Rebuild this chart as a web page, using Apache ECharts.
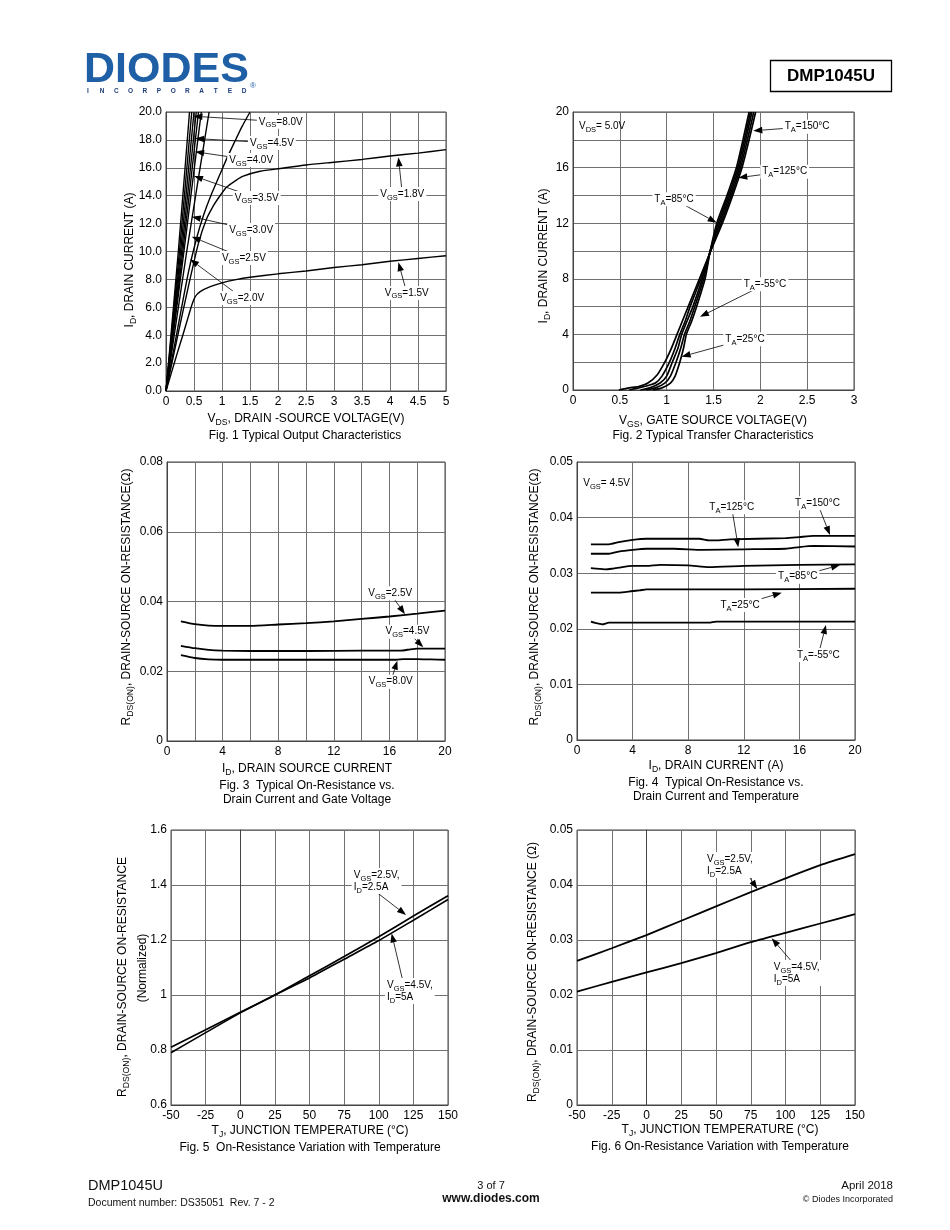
<!DOCTYPE html>
<html><head><meta charset="utf-8">
<script src="https://cdn.jsdelivr.net/npm/echarts/dist/echarts.min.js"></script>
<style>html,body{margin:0;padding:0;background:#fff}#c{width:950px;height:1230px}</style>
</head><body><div id="c"></div>
<script>
// ---------------- DATA ----------------
// Fig 1: Typical Output Characteristics  [VDS (V), ID (A)]
const fig1_vgs8p0 = [[0,0],[0.22,10],[0.42,20]];
const fig1_vgs4p5 = [[0,0],[0.24,10],[0.46,20]];
const fig1_vgs4p0 = [[0,0],[0.26,10],[0.5,20]];
const fig1_vgs3p5 = [[0,0],[0.28,10],[0.54,20]];
const fig1_vgs3p0 = [[0,0],[0.3,10],[0.58,20]];
const fig1_vgs2p5 = [[0,0],[0.32,10],[0.63,20]];
const fig1_vgs2p0 = [[0,0],[0.37,10],[0.77,20]];
const fig1_bend   = [[0,0],[0.2,4.3],[0.4,8.5],[0.55,11.0],[0.67,12.6],[0.8,14.0],[0.96,15.5],[1.1,16.8],[1.23,17.9],[1.35,18.9],[1.5,20]];
const fig1_vgs1p8 = [[0,0],[0.2,3.8],[0.4,7.5],[0.58,10.6],[0.72,12.3],[0.85,13.3],[0.93,13.8],[1.08,14.6],[1.25,15.1],[1.38,15.4],[1.68,15.75],[2.04,15.95],[2.5,16.2],[3,16.4],[3.5,16.6],[4,16.85],[4.5,17.05],[5,17.3]];
const fig1_vgs1p5 = [[0,0],[0.1,1.35],[0.2,2.7],[0.3,4.0],[0.4,5.35],[0.46,6.15],[0.52,6.75],[0.61,7.12],[0.79,7.48],[1.0,7.75],[1.25,7.98],[1.5,8.15],[2,8.4],[2.5,8.6],[3,8.85],[3.5,9.05],[4,9.3],[4.5,9.5],[5,9.7]];

// Fig 2: Transfer characteristics [VGS (V), ID (A)]
const fig2_t150 = [[0.49,0],[0.6,0.15],[0.7,0.25],[0.8,0.5],[0.9,1.1],[0.98,2.0],[1.05,3.0],[1.11,4.0],[1.17,5.0],[1.23,6.0],[1.35,8.0],[1.47,10.0],[1.595,12.0],[1.705,14.0],[1.805,16.0],[1.88,18.0],[1.95,20]];
const fig2_t125 = [[0.6,0],[0.7,0.15],[0.8,0.32],[0.88,0.5],[0.95,1.0],[1.03,2.0],[1.09,3.0],[1.14,4.0],[1.2,5.0],[1.25,6.0],[1.365,8.0],[1.47,10.0],[1.58,12.0],[1.69,14.0],[1.79,16.0],[1.862,18.0],[1.93,20]];
const fig2_t85  = [[0.72,0],[0.82,0.15],[0.93,0.5],[1.0,1.0],[1.06,2.0],[1.12,3.0],[1.16,4.0],[1.22,5.0],[1.28,6.0],[1.38,8.0],[1.465,10.0],[1.565,12.0],[1.675,14.0],[1.775,16.0],[1.845,18.0],[1.91,20]];
const fig2_t25  = [[0.78,0],[0.88,0.15],[0.98,0.5],[1.04,1.0],[1.1,2.0],[1.15,3.0],[1.19,4.0],[1.25,5.0],[1.3,6.0],[1.395,8.0],[1.465,10.0],[1.55,12.0],[1.66,14.0],[1.76,16.0],[1.83,18.0],[1.895,20]];
const fig2_tm55 = [[0.85,0],[0.95,0.15],[1.04,0.5],[1.09,1.0],[1.14,2.0],[1.18,3.0],[1.21,4.0],[1.27,5.0],[1.32,6.0],[1.41,8.0],[1.465,10.0],[1.535,12.0],[1.645,14.0],[1.745,16.0],[1.815,18.0],[1.88,20]];

// Fig 3: RDS(ON) vs ID and VGS [ID (A), R (ohm)]
const fig3_vgs2p5 = [[1,0.0343],[2,0.0335],[3,0.0331],[4,0.033],[6,0.033],[8,0.0334],[10,0.0338],[12,0.0343],[14,0.035],[16,0.0357],[18,0.0365],[20,0.0374]];
const fig3_vgs4p5 = [[1,0.0273],[2,0.0266],[3,0.0261],[4,0.0259],[6,0.0258],[10,0.0258],[14,0.0259],[16.8,0.0259],[17.5,0.0263],[18,0.0265],[20,0.0265]];
const fig3_vgs8p0 = [[1,0.0246],[2,0.0238],[3,0.0234],[4,0.0233],[10,0.0233],[16.5,0.0233],[17,0.0235],[18,0.0235],[19,0.0234],[20,0.0233]];

// Fig 4: RDS(ON) vs ID and temperature [ID (A), R (ohm)]
const fig4_t150 = [[1,0.0352],[2.3,0.0352],[3,0.0356],[4,0.036],[5,0.0362],[8.8,0.0362],[9.5,0.0359],[10,0.0359],[11,0.0361],[15,0.0363],[16,0.0365],[17,0.0367],[20,0.0367]];
const fig4_t125 = [[1,0.0335],[2.3,0.0335],[3,0.0339],[4,0.0342],[5,0.0344],[7,0.0344],[9,0.0342],[12,0.0343],[15,0.0344],[16,0.0347],[17,0.0349],[20,0.0348]];
const fig4_t85  = [[1,0.0309],[2,0.0307],[2.5,0.0308],[3,0.031],[4,0.0313],[5,0.0313],[6,0.0315],[8,0.0314],[9.5,0.0311],[12,0.0313],[16,0.0315],[20,0.0316]];
const fig4_t25  = [[1,0.0265],[3,0.0265],[4,0.0268],[4.5,0.0269],[5,0.0271],[8,0.0271],[12,0.0271],[20,0.0272]];
const fig4_tm55 = [[1,0.0213],[1.4,0.021],[1.8,0.0208],[2.3,0.0211],[4,0.0211],[9.5,0.0211],[10,0.0213],[20,0.0213]];

// Fig 5: normalized RDS(ON) vs TJ [TJ (C), normalized]
const fig5_vgs2p5 = [[-50,0.79],[0,0.935],[25,1.0],[50,1.07],[75,1.14],[100,1.212],[125,1.287],[150,1.361]];
const fig5_vgs4p5 = [[-50,0.81],[0,0.937],[25,1.0],[50,1.062],[75,1.13],[100,1.198],[125,1.272],[150,1.347]];

// Fig 6: RDS(ON) vs TJ [TJ (C), R (ohm)]
const fig6_vgs2p5 = [[-50,0.0262],[-25,0.0285],[0,0.0309],[25,0.0335],[50,0.0361],[75,0.0387],[100,0.0412],[125,0.0436],[150,0.0456]];
const fig6_vgs4p5 = [[-50,0.0206],[-25,0.0224],[0,0.0241],[25,0.0258],[50,0.0276],[75,0.0296],[100,0.0313],[125,0.033],[150,0.0347]];

// ---------------- ANNOTATIONS (data-space anchors) ----------------
const fig1Notes = [
  {t:'V{s|GS}=8.0V', at:[2.05,19.3], tip:[0.49,19.7]},
  {t:'V{s|GS}=4.5V', at:[1.89,17.78], tip:[0.52,18.1]},
  {t:'V{s|GS}=4.0V', at:[1.52,16.56], tip:[0.52,17.15]},
  {t:'V{s|GS}=3.5V', at:[1.62,13.84], tip:[0.5,15.41]},
  {t:'V{s|GS}=3.0V', at:[1.52,11.54], tip:[0.46,12.5]},
  {t:'V{s|GS}=2.5V', at:[1.39,9.53], tip:[0.46,11.06]},
  {t:'V{s|GS}=2.0V', at:[1.36,6.67], tip:[0.43,9.44]},
  {t:'V{s|GS}=1.8V', at:[4.22,14.12], tip:[4.15,16.75]},
  {t:'V{s|GS}=1.5V', at:[4.3,7.03], tip:[4.15,9.23]}
];
const fig2Notes = [
  {t:'V{s|DS}= 5.0V', at:[0.064,18.94], align:'left', bg:false},
  {t:'T{s|A}=150°C', at:[2.5,18.94], tip:[1.925,18.65]},
  {t:'T{s|A}=125°C', at:[2.26,15.71], tip:[1.765,15.27]},
  {t:'T{s|A}=85°C', at:[1.078,13.72], tip:[1.534,12.04]},
  {t:'T{s|A}=-55°C', at:[2.05,7.6], tip:[1.356,5.27]},
  {t:'T{s|A}=25°C', at:[1.836,3.65], tip:[1.16,2.4]}
];
const fig3Notes = [
  {t:'V{s|GS}=2.5V', at:[16.06,0.04235], tip:[17.12,0.03633]},
  {t:'V{s|GS}=4.5V', at:[17.3,0.03134], tip:[18.44,0.02687]},
  {t:'V{s|GS}=8.0V', at:[16.1,0.017], tip:[16.57,0.02303]}
];
const fig4Notes = [
  {t:'V{s|GS}= 4.5V', at:[0.45,0.04617], align:'left', bg:false},
  {t:'T{s|A}=150°C', at:[17.3,0.04257], tip:[18.2,0.03687]},
  {t:'T{s|A}=125°C', at:[11.13,0.04185], tip:[11.6,0.03466]},
  {t:'T{s|A}=85°C', at:[15.88,0.02937], tip:[18.92,0.03147]},
  {t:'T{s|A}=25°C', at:[11.73,0.02428], tip:[14.73,0.02649]},
  {t:'T{s|A}=-55°C', at:[17.36,0.01529], tip:[17.91,0.02068]}
];
const fig5Notes = [
  {t:'V{s|GS}=2.5V,\nI{s|D}=2.5A', at:[80.5,1.4145], align:'left', tail:[98.5,1.3735], tip:[119.7,1.291]},
  {t:'V{s|GS}=4.5V,\nI{s|D}=5A', at:[104.5,1.0145], align:'left', tail:[117.5,1.0484], tip:[109.3,1.224]}
];
const fig6Notes = [
  {t:'V{s|GS}=2.5V,\nI{s|D}=2.5A', at:[42.1,0.04364], align:'left', tail:[71.6,0.04236], tip:[79.7,0.03927]},
  {t:'V{s|GS}=4.5V,\nI{s|D}=5A', at:[90.1,0.024], align:'left', tail:[105.6,0.02576], tip:[90.1,0.0303]}
];

// ---------------- LAYOUT ----------------
const FF = "'Liberation Sans', Arial, Helvetica, sans-serif";
const GRIDS = [
  {left:166, top:112, width:280, height:279},
  {left:573, top:112, width:281, height:278},
  {left:167, top:462, width:278, height:279},
  {left:577, top:462, width:278, height:278},
  {left:171, top:830, width:277, height:275},
  {left:577, top:830, width:278, height:275}
];
const AXES = [
  {x:[0,5,0.5,null], y:[0,20,2,v=>v.toFixed(1)]},
  {x:[0,3,0.5,null], y:[0,20,2,v=>(Math.round(v)%4===0?String(v):'')]},
  {x:[0,20,2,v=>(Math.round(v)%4===0?String(v):'')], y:[0,0.08,0.02,null]},
  {x:[0,20,4,null], y:[0,0.05,0.01,null]},
  {x:[-50,150,25,null], y:[0.6,1.6,0.2,null]},
  {x:[-50,150,25,null], y:[0,0.05,0.01,null]}
];
const SERIES = [
  [0, [fig1_vgs8p0,fig1_vgs4p5,fig1_vgs4p0,fig1_vgs3p5,fig1_vgs3p0,fig1_vgs2p5,fig1_vgs2p0,fig1_bend,fig1_vgs1p8,fig1_vgs1p5], 1.4],
  [1, [fig2_t150,fig2_t125,fig2_t85,fig2_t25,fig2_tm55], 1.7],
  [2, [fig3_vgs2p5,fig3_vgs4p5,fig3_vgs8p0], 1.8],
  [3, [fig4_t150,fig4_t125,fig4_t85,fig4_t25,fig4_tm55], 1.8],
  [4, [fig5_vgs2p5,fig5_vgs4p5], 1.7],
  [5, [fig6_vgs2p5,fig6_vgs4p5], 1.8]
];
const GRID_COLOR = '#707070';
const LABEL = {fontSize:12, fontFamily:FF, color:'#000'};

const chart = echarts.init(document.getElementById('c'), null, {renderer:'canvas'});
const xAxis = [], yAxis = [], series = [];
AXES.forEach((a, i) => {
  const common = {gridIndex:i, type:'value', axisTick:{show:false},
    axisLine:{show:true, lineStyle:{color:'#444', width:1}},
    splitLine:{show:true, lineStyle:{color:GRID_COLOR, width:1}}};
  xAxis.push(Object.assign({}, common, {min:a.x[0], max:a.x[1], interval:a.x[2],
    axisLabel:Object.assign({margin:5}, LABEL, a.x[3] ? {formatter:a.x[3]} : {})}));
  yAxis.push(Object.assign({}, common, {min:a.y[0], max:a.y[1], interval:a.y[2],
    axisLabel:Object.assign({margin:4}, LABEL, a.y[3] ? {formatter:a.y[3]} : {})}));
});
SERIES.forEach(([gi, list, w]) => {
  list.forEach(d => series.push({type:'line', xAxisIndex:gi, yAxisIndex:gi, data:d,
    symbol:'none', showSymbol:false, smooth:0.2, silent:true,
    lineStyle:{color:'#000', width:w}}));
});

chart.setOption({
  animation:false,
  backgroundColor:'#fff',
  grid: GRIDS.map(g => Object.assign({show:true, borderColor:'#444', borderWidth:1, backgroundColor:'transparent'}, g)),
  xAxis, yAxis, series
});

// ---------------- GRAPHIC TEXT ----------------
function richFor(size, sub) {
  return {
    s:{fontSize:sub, fontFamily:FF, fill:'#000', lineHeight:Math.round(size*1.2), padding:[Math.round(size*0.7),0,0,0]}
  };
}
function txt(x, y, text, o) {
  o = o || {};
  const size = o.size || 12;
  return {type:'text', x, y, rotation:o.rot ? Math.PI/2 : 0, z:30, silent:true,
    style:{text, fontSize:size, fontFamily:FF, fontWeight:o.bold ? 'bold' : 'normal',
      fill:o.color || '#000', align:o.align || 'center', verticalAlign:'middle',
      lineHeight:o.lh || Math.round(size*1.2), rich:richFor(size, o.sub || size*0.72)}};
}

const els = [];
function addNotes(gi, notes) {
  notes.forEach(n => {
    const p = chart.convertToPixel({gridIndex:gi}, n.at);
    if (n.tip) {
      const t = chart.convertToPixel({gridIndex:gi}, n.tail || n.at);
      const q = chart.convertToPixel({gridIndex:gi}, n.tip);
      const dx = q[0]-t[0], dy = q[1]-t[1], L = Math.hypot(dx, dy), ux = dx/L, uy = dy/L;
      const ah = 9, aw = 3.3;
      const bx = q[0]-ux*ah, by = q[1]-uy*ah;
      els.push({type:'line', z:20, silent:true, shape:{x1:t[0], y1:t[1], x2:bx, y2:by}, style:{stroke:'#000', lineWidth:0.8}});
      els.push({type:'polygon', z:20, silent:true, shape:{points:[[q[0],q[1]],[bx-uy*aw, by+ux*aw],[bx+uy*aw, by-ux*aw]]}, style:{fill:'#000'}});
    }
    const e = txt(p[0], p[1], n.t, {size:10, sub:7.5, align:n.align || 'center', lh:12});
    if (n.bg !== false) { e.style.backgroundColor = '#fff'; e.style.padding = [1,2]; }
    els.push(e);
  });
}
addNotes(0, fig1Notes); addNotes(1, fig2Notes); addNotes(2, fig3Notes);
addNotes(3, fig4Notes); addNotes(4, fig5Notes); addNotes(5, fig6Notes);

// axis titles and captions
const TITLES = [
  [306, 419, 'V{s|DS}, DRAIN -SOURCE VOLTAGE(V)'],
  [305, 436, 'Fig. 1 Typical Output Characteristics'],
  [713, 421, 'V{s|GS}, GATE SOURCE VOLTAGE(V)'],
  [713, 436, 'Fig. 2 Typical Transfer Characteristics'],
  [307, 769, 'I{s|D}, DRAIN SOURCE CURRENT'],
  [307, 786, 'Fig. 3  Typical On-Resistance vs.'],
  [307, 800, 'Drain Current and Gate Voltage'],
  [716, 766, 'I{s|D}, DRAIN CURRENT (A)'],
  [716, 783, 'Fig. 4  Typical On-Resistance vs.'],
  [716, 797, 'Drain Current and Temperature'],
  [310, 1131, 'T{s|J}, JUNCTION TEMPERATURE (°C)'],
  [310, 1148, 'Fig. 5  On-Resistance Variation with Temperature'],
  [720, 1130, 'T{s|J}, JUNCTION TEMPERATURE (°C)'],
  [720, 1147, 'Fig. 6 On-Resistance Variation with Temperature']
];
TITLES.forEach(([x, y, t]) => els.push(txt(x, y, t)));
const YTITLES = [
  [130, 260, 'I{s|D}, DRAIN CURRENT (A)'],
  [544, 256, 'I{s|D}, DRAIN CURRENT (A)'],
  [127, 597, 'R{s|DS(ON)}, DRAIN-SOURCE ON-RESISTANCE(Ω)'],
  [535, 597, 'R{s|DS(ON)}, DRAIN-SOURCE ON-RESISTANCE(Ω)'],
  [123, 977, 'R{s|DS(ON)}, DRAIN-SOURCE ON-RESISTANCE'],
  [143, 968, '(Normalized)'],
  [533, 972, 'R{s|DS(ON)}, DRAIN-SOURCE ON-RESISTANCE (Ω)']
];
YTITLES.forEach(([x, y, t]) => els.push(txt(x, y, t, {rot:true})));

// header
els.push({type:'text', x:84, y:70, z:30, silent:true, style:{text:'DIODES', fontSize:43, fontWeight:'bold', fontFamily:FF, fill:'#1f5fa6', align:'left', verticalAlign:'middle'}});
'INCORPORATED'.split('').forEach((ch, i) => els.push({type:'text', x:88 + i*14.2, y:91, z:30, silent:true,
  style:{text:ch, fontSize:6.5, fontWeight:'bold', fontFamily:FF, fill:'#1d3c78', align:'center', verticalAlign:'middle'}}));
els.push({type:'text', x:253, y:86, z:30, silent:true, style:{text:'®', fontSize:8, fontFamily:FF, fill:'#1f5fa6', align:'center', verticalAlign:'middle'}});
els.push({type:'rect', z:30, silent:true, shape:{x:770.5, y:60.5, width:121, height:31}, style:{stroke:'#000', lineWidth:1.3, fill:null}});
els.push(txt(831, 76, 'DMP1045U', {size:17, bold:true}));

// footer
els.push(txt(88, 1186, 'DMP1045U', {size:14.5, align:'left', color:'#111'}));
els.push(txt(88, 1203, 'Document number: DS35051  Rev. 7 - 2', {size:10.5, align:'left', color:'#111'}));
els.push(txt(491, 1186, '3 of 7', {size:11, color:'#111'}));
els.push(txt(491, 1199, 'www.diodes.com', {size:12, bold:true, color:'#111'}));
els.push(txt(893, 1186, 'April 2018', {size:11.5, align:'right', color:'#111'}));
els.push(txt(893, 1200, '© Diodes Incorporated', {size:9, align:'right', color:'#111'}));

chart.setOption({graphic:{elements:els}});
</script></body></html>
